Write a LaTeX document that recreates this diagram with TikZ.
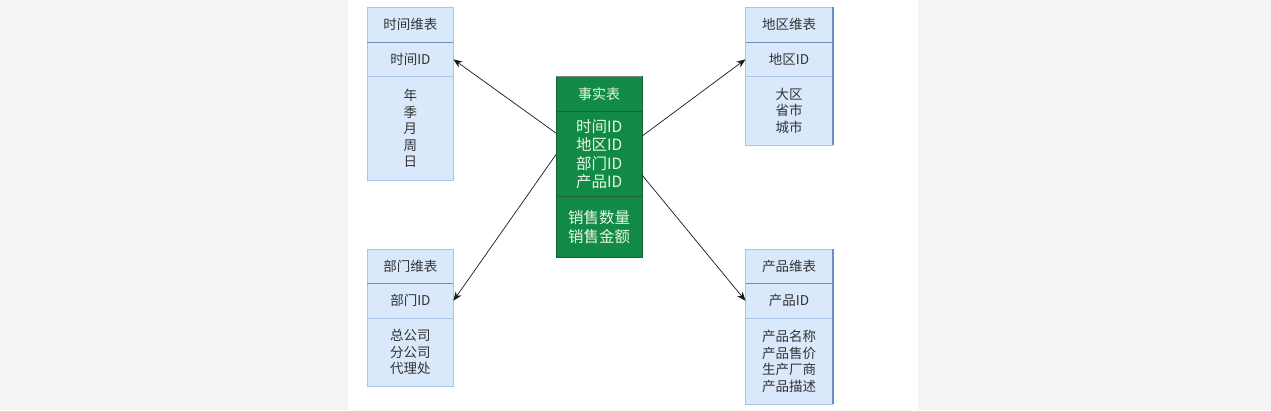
\documentclass[tikz,border=0pt]{standalone}
\usepackage{fontspec}
\newfontfamily\cjk{Noto Sans CJK SC}
\usetikzlibrary{arrows.meta}
\usetikzlibrary{positioning}
\usepackage{xcolor}
\definecolor{dimfill}{HTML}{DAE8FC}
\definecolor{dimline}{HTML}{A9C4EB}
\definecolor{dimdark}{HTML}{6C8EBF}
\definecolor{factfill}{HTML}{108A44}
\definecolor{factline}{HTML}{1B5E30}
\definecolor{facttext}{HTML}{EAF6E4}
\definecolor{pagegray}{HTML}{F4F4F4}

\begin{document}
\begin{tikzpicture}[x=1pt, y=-1pt,
    dimcell/.style={draw=dimline, fill=dimfill, line width=0.8pt, minimum width=86pt,
      inner sep=0pt, outer sep=0pt, align=center, text=black!80,
      font=\cjk\fontsize{13.5}{16.5}\selectfont},
    factcell/.style={draw=factline, fill=factfill, line width=0.8pt, minimum width=86pt,
      inner sep=0pt, outer sep=0pt, align=center, text=facttext,
      font=\cjk\fontsize{15.5}{18.5}\selectfont},
    link/.style={-{Stealth[length=9pt, width=7pt]}, line width=0.7pt, black!90}]

			\fill[pagegray] (0,0) rectangle (1271,410);
			\fill[white] (348,0) rectangle (918,410);
			\useasboundingbox (0,0) rectangle (1271,410);

			% 事实表
			\node[factcell, minimum height=35.7pt, font=\cjk\fontsize{14}{16}\selectfont] (facthead) at (599.2,93.9) {事实表};
			\node[factcell, minimum height=85pt, below=0pt of facthead] (factkey) {时间ID\\地区ID\\部门ID\\产品ID};
			\node[factcell, minimum height=60.6pt, below=0pt of factkey] (factmeas) {销售数量\\销售金额};
			\draw[gray, line width=0.8pt] (facthead.north west) -- (facthead.north east);

			% 时间维表
			\node[dimcell, minimum height=35pt] (timehead) at (410.4,24.8) {时间维表};
			\node[dimcell, minimum height=34pt, below=0pt of timehead] (timekey) {时间ID};
			\node[dimcell, minimum height=104pt, below=0pt of timekey] (timeattr) {年\\季\\月\\周\\日};
			\draw[dimdark, line width=0.8pt] (timehead.south west) -- (timehead.south east);

			% 部门维表
			\node[dimcell, minimum height=34pt] (depthead) at (410.4,266.3) {部门维表};
			\node[dimcell, minimum height=35pt, below=0pt of depthead] (deptkey) {部门ID};
			\node[dimcell, minimum height=68pt, below=0pt of deptkey] (deptattr) {总公司\\分公司\\代理处};
			\draw[dimdark, line width=0.8pt] (depthead.south west) -- (depthead.south east);

			% 地区维表
			\node[dimcell, minimum width=87pt, minimum height=35pt] (regionhead) at (789,24.8) {地区维表};
			\node[dimcell, minimum width=87pt, minimum height=34pt, below=0pt of regionhead] (regionkey) {地区ID};
			\node[dimcell, minimum width=87pt, minimum height=69pt, below=0pt of regionkey] (regionattr) {大区\\省市\\城市};
			\draw[dimdark, line width=0.8pt] (regionhead.south west) -- (regionhead.south east);
			\draw[dimdark, line width=2pt] (regionhead.north east) -- (regionattr.south east);

			% 产品维表
			\node[dimcell, minimum width=87pt, minimum height=34pt] (prodhead) at (789,266.3) {产品维表};
			\node[dimcell, minimum width=87pt, minimum height=35pt, below=0pt of prodhead] (prodkey) {产品ID};
			\node[dimcell, minimum width=87pt, minimum height=86pt, below=0pt of prodkey] (prodattr) {产品名称\\产品售价\\生产厂商\\产品描述};
			\draw[dimdark, line width=0.8pt] (prodhead.south west) -- (prodhead.south east);
			\draw[dimdark, line width=2pt] (prodhead.north east) -- (prodattr.south east);

			\draw[link] (factkey.154) -- (timekey.east);
			\draw[link] (factkey.west) -- (deptkey.east);
			\draw[link] (factkey.23) -- (regionkey.west);
			\draw[link] (factkey.334) -- (prodkey.west);
		\end{tikzpicture}
\end{document}
